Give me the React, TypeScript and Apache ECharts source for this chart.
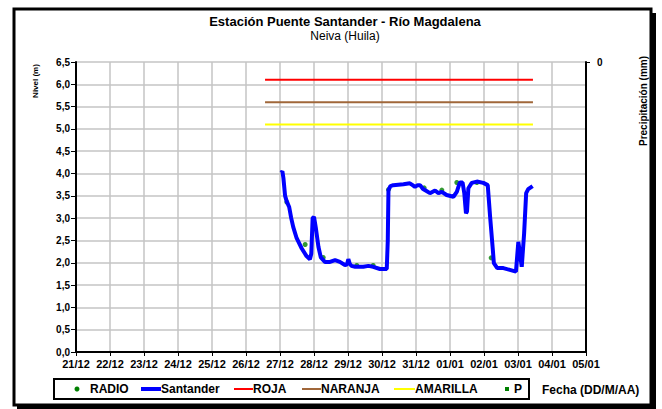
import React, { useEffect, useRef } from "react";
import * as echarts from "echarts";

// ---- data ----
const dayLabels = [
  "21/12", "22/12", "23/12", "24/12", "25/12", "26/12", "27/12", "28/12",
  "29/12", "30/12", "31/12", "01/01", "02/01", "03/01", "04/01", "05/01",
];

// time in days since 21/12 00:00
const santanderTimes = [
  6.03, 6.07, 6.1, 6.15, 6.2, 6.27, 6.33, 6.39, 6.49, 6.64, 6.78, 6.88, 6.92, 6.96, 7.0,
  7.05, 7.13, 7.2, 7.32, 7.47, 7.62, 7.76, 7.91, 7.97, 8.01, 8.05, 8.1, 8.21, 8.45, 8.6,
  8.74, 8.94, 9.14, 9.17, 9.19, 9.25, 9.33, 9.63, 9.82, 9.9, 9.97, 10.05, 10.12, 10.2,
  10.26, 10.41, 10.56, 10.66, 10.76, 10.9, 11.1, 11.2, 11.29, 11.37, 11.42, 11.47, 11.5,
  11.54, 11.64, 11.79, 11.98, 12.11, 12.18, 12.26, 12.29, 12.39, 12.57, 12.76, 12.94,
  13.01, 13.06, 13.11, 13.18, 13.24, 13.3, 13.43,
];
const santanderLevels = [
  4.02, 4.05, 3.9, 3.5, 3.37, 3.25, 3.0, 2.8, 2.55, 2.32, 2.15, 2.08, 2.2, 3.0, 3.03,
  2.8, 2.36, 2.12, 2.02, 2.02, 2.06, 2.02, 1.95, 1.96, 2.08, 1.98, 1.93, 1.91, 1.91, 1.93,
  1.91, 1.86, 1.86, 2.5, 3.63, 3.72, 3.74, 3.76, 3.78, 3.74, 3.7, 3.74, 3.74, 3.66,
  3.63, 3.56, 3.62, 3.56, 3.59, 3.52, 3.48, 3.59, 3.8, 3.8, 3.56, 3.11, 3.15,
  3.67, 3.79, 3.82, 3.79, 3.74, 3.03, 2.29, 1.99, 1.88, 1.88, 1.84, 1.8,
  2.47, 2.2, 1.91, 2.66, 3.56, 3.65, 3.72,
];

const radioTimes = [6.2, 6.74, 7.27, 8.26, 8.74, 9.19, 10.24, 10.76, 11.2, 11.79, 12.21];
const radioLevels = [3.36, 2.41, 2.12, 1.94, 1.94, 3.64, 3.68, 3.63, 3.8, 3.8, 2.11];

const precipTimes: number[] = [];
const precipValues: number[] = [];

const thresholdNames = ["ROJA", "NARANJA", "AMARILLA"];
const thresholdValues = [6.1, 5.6, 5.1];
const thresholdColors = ["#ff0000", "#a0673a", "#ffff00"];
const thresholdFrom = 5.56;
const thresholdTo = 13.44;

const yTicksMin = 0;
const yTicksMax = 6.5;
const yTickStep = 0.5;

const FONT = "'Liberation Sans', Arial, sans-serif";

export default function App() {
  const ref = useRef<HTMLDivElement>(null);

  useEffect(() => {
    if (!ref.current) return;
    const chart = echarts.init(ref.current, undefined, { renderer: "svg" });

    const santander = santanderTimes.map((t, i) => [t, santanderLevels[i]]);
    const radio = radioTimes.map((t, i) => [t, radioLevels[i]]);
    const precip = precipTimes.map((t, i) => [t, precipValues[i]]);

    const thresholdSeries = thresholdNames.map((name, i) => ({
      name,
      type: "line",
      data: [
        [thresholdFrom, thresholdValues[i]],
        [thresholdTo, thresholdValues[i]],
      ],
      showSymbol: false,
      symbol: "none",
      lineStyle: { color: thresholdColors[i], width: 2 },
      z: 3,
    }));

    // legend drawn as graphic
    const legendY = 389;
    const legendItems: any[] = [
      { kind: "dot", name: "RADIO", color: "#008000", ix: 77, tx: 90 },
      { kind: "line", name: "Santander", color: "#0000ff", w: 4, ix: 141, iw: 20, tx: 161 },
      { kind: "line", name: thresholdNames[0], color: thresholdColors[0], w: 2, ix: 234, iw: 19, tx: 253 },
      { kind: "line", name: thresholdNames[1], color: thresholdColors[1], w: 2, ix: 302, iw: 19, tx: 321 },
      { kind: "line", name: thresholdNames[2], color: thresholdColors[2], w: 2, ix: 394, iw: 21, tx: 415 },
      { kind: "square", name: "P", color: "#008000", ix: 507, tx: 514 },
    ];
    const legendGraphics: any[] = [];
    legendItems.forEach((it) => {
      if (it.kind === "dot") {
        legendGraphics.push({
          type: "circle",
          shape: { cx: it.ix, cy: legendY, r: 2.5 },
          style: { fill: it.color },
        });
      } else if (it.kind === "square") {
        legendGraphics.push({
          type: "rect",
          shape: { x: it.ix - 2, y: legendY - 2, width: 4, height: 4 },
          style: { fill: it.color },
        });
      } else {
        legendGraphics.push({
          type: "line",
          shape: { x1: it.ix, y1: legendY, x2: it.ix + it.iw, y2: legendY },
          style: { stroke: it.color, lineWidth: it.w },
        });
      }
      legendGraphics.push({
        type: "text",
        x: it.tx,
        y: legendY,
        style: {
          text: it.name,
          font: `bold 12px ${FONT}`,
          fill: "#000",
          textVerticalAlign: "middle",
          textAlign: "left",
        },
      });
    });

    const option: any = {
      animation: false,
      backgroundColor: "#fff",
      title: {
        text: "Estación Puente Santander - Río Magdalena",
        subtext: "Neiva (Huila)",
        left: 345,
        top: 15,
        textAlign: "center",
        padding: 0,
        itemGap: 2,
        textStyle: { fontSize: 13, fontWeight: "bold", fontFamily: FONT, color: "#000" },
        subtextStyle: { fontSize: 12, fontFamily: FONT, color: "#000" },
      },
      grid: { left: 76, top: 62, right: 76, bottom: 57, containLabel: false },
      xAxis: {
        type: "value",
        min: 0,
        max: dayLabels.length - 1,
        interval: 1,
        axisLine: { lineStyle: { color: "#000", width: 2 } },
        axisTick: { show: true, length: 4, lineStyle: { color: "#000", width: 1 } },
        axisLabel: {
          formatter: (v: number) => dayLabels[Math.round(v)] ?? "",
          fontSize: 11,
          fontWeight: "bold",
          fontFamily: FONT,
          color: "#000",
          margin: 6,
          showMinLabel: true,
          showMaxLabel: true,
          hideOverlap: false,
        },
        splitLine: { show: true, lineStyle: { color: "#c4c4c4", width: 1.5 } },
      },
      yAxis: [
        {
          type: "value",
          min: yTicksMin,
          max: yTicksMax,
          interval: yTickStep,
          axisLine: { show: true, lineStyle: { color: "#000", width: 2 } },
          axisTick: { show: true, length: 5, lineStyle: { color: "#000", width: 1 } },
          axisLabel: {
            formatter: (v: number) => v.toFixed(1).replace(".", ","),
            fontSize: 10,
            fontWeight: "bold",
            fontFamily: FONT,
            color: "#000",
            margin: 6,
          },
          splitLine: { show: true, lineStyle: { color: "#c4c4c4", width: 1.5 } },
        },
        {
          type: "value",
          position: "right",
          inverse: true,
          min: 0,
          max: 1,
          interval: 1,
          axisLine: { show: true, lineStyle: { color: "#000", width: 2 } },
          axisTick: { show: true, length: 4, customValues: [0], lineStyle: { color: "#000", width: 1 } },
          axisLabel: {
            customValues: [0],
            formatter: (v: number) => String(v),
            fontSize: 10,
            fontWeight: "bold",
            fontFamily: FONT,
            color: "#000",
            margin: 11,
          },
          splitLine: { show: false },
        },
      ],
      series: [
        {
          name: "RADIO",
          type: "scatter",
          data: radio,
          symbol: "circle",
          symbolSize: 5,
          itemStyle: { color: "#008000" },
          z: 1,
        },
        {
          name: "Santander",
          type: "line",
          data: santander,
          showSymbol: false,
          symbol: "none",
          smooth: false,
          lineStyle: { color: "#0000ff", width: 4 },
          z: 2,
        },
        ...thresholdSeries,
        {
          name: "P",
          type: "scatter",
          yAxisIndex: 1,
          data: precip,
          symbol: "rect",
          symbolSize: 4,
          itemStyle: { color: "#008000" },
        },
      ],
      graphic: [
        // outer frame with shadow
        {
          type: "rect",
          shape: { x: 14, y: 9, width: 637, height: 396 },
          style: { fill: "none", stroke: "#000", lineWidth: 3 },
          silent: true,
        },
        { type: "rect", shape: { x: 652, y: 13, width: 4, height: 396 }, style: { fill: "#000" } },
        { type: "rect", shape: { x: 17, y: 405, width: 639, height: 4 }, style: { fill: "#000" } },
        // axis names
        {
          type: "text",
          x: 35,
          y: 81,
          rotation: Math.PI / 2,
          style: {
            text: "Nivel (m)",
            font: `bold 8px ${FONT}`,
            fill: "#000",
            textAlign: "center",
            textVerticalAlign: "middle",
          },
        },
        {
          type: "text",
          x: 643,
          y: 101,
          rotation: Math.PI / 2,
          style: {
            text: "Precipitación (mm)",
            font: `bold 10px ${FONT}`,
            fill: "#000",
            textAlign: "center",
            textVerticalAlign: "middle",
          },
        },
        // legend box
        {
          type: "rect",
          shape: { x: 54, y: 379, width: 475, height: 20 },
          style: { fill: "#fff", stroke: "#000", lineWidth: 2 },
        },
        ...legendGraphics,
        {
          type: "text",
          x: 542,
          y: 390,
          style: {
            text: "Fecha (DD/M/AA)",
            font: `bold 12px ${FONT}`,
            fill: "#000",
            textVerticalAlign: "middle",
          },
        },
      ],
    };

    chart.setOption(option);
    return () => chart.dispose();
  }, []);

  return (
    <div
      ref={ref}
      style={{ position: "fixed", left: 0, top: 0, width: 662, height: 409, background: "#fff" }}
    />
  );
}
